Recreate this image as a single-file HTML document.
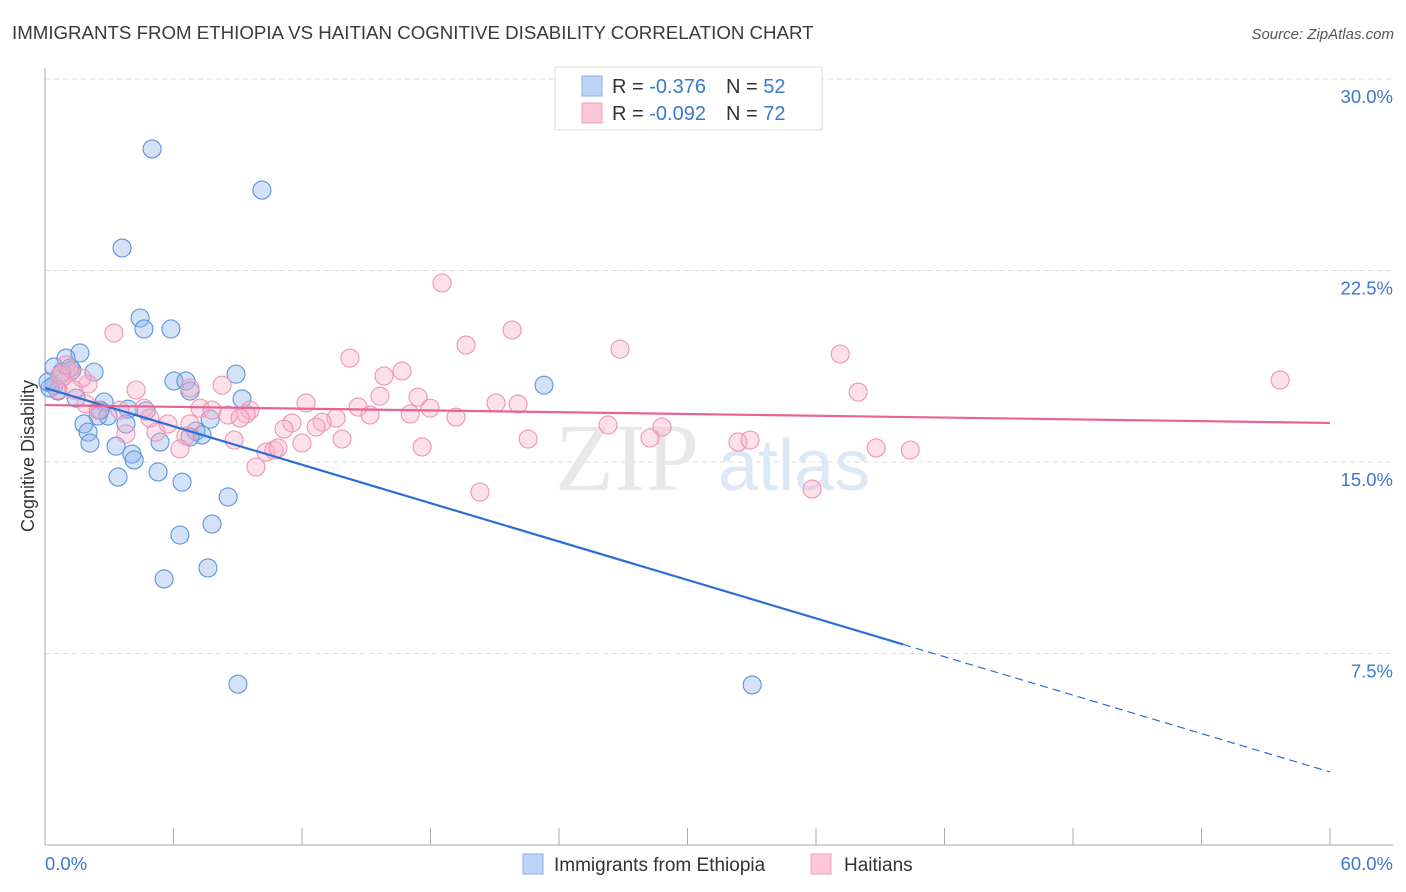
<!DOCTYPE html>
<html><head><meta charset="utf-8"><style>
body{margin:0;background:#fff;font-family:"Liberation Sans",sans-serif}
svg{display:block}
</style></head><body>
<svg id="chart" width="1406" height="892" xmlns="http://www.w3.org/2000/svg" font-family="Liberation Sans, sans-serif">
<text x="12" y="39" font-size="18.7" fill="#3a3a3a">IMMIGRANTS FROM ETHIOPIA VS HAITIAN COGNITIVE DISABILITY CORRELATION CHART</text>
<text x="1394" y="39" font-size="15" font-style="italic" fill="#555" text-anchor="end">Source: ZipAtlas.com</text>
<g id="grid"></g>
<text x="555" y="490" font-size="96" fill="#e8e8e8" font-family="Liberation Serif, serif">ZIP</text>
<text x="718" y="490" font-size="72" fill="#dde8f7">atlas</text>
<line x1="45" y1="68" x2="45" y2="845" stroke="#aaa"/>
<line x1="45" y1="845" x2="1393" y2="845" stroke="#aaa"/>
<text transform="translate(34,456) rotate(-90)" font-size="18" fill="#333" text-anchor="middle">Cognitive Disability</text>
<text x="45" y="870" font-size="18.5" fill="#3b78d0">0.0%</text>
<text x="1393" y="870" font-size="18.5" fill="#3b78d0" text-anchor="end">60.0%</text>
<g id="pts"></g>
<g id="lines"></g>
<g>
<rect x="555" y="67" width="267" height="63" fill="#fff" stroke="#ddd"/>
<rect x="582" y="76" width="20" height="20" fill="#bcd4f6" stroke="#8ab0e8"/>
<rect x="582" y="103" width="20" height="20" fill="#fac8d8" stroke="#f0a0bb"/>
<text x="612" y="93" font-size="20" fill="#333">R = <tspan fill="#3b78d0"> -0.376</tspan><tspan dx="20">N = </tspan><tspan fill="#3b78d0">52</tspan></text>
<text x="612" y="120" font-size="20" fill="#333">R = <tspan fill="#3b78d0">-0.092</tspan><tspan dx="20">N = </tspan><tspan fill="#3b78d0">72</tspan></text>
</g>
<g>
<rect x="523" y="854" width="20" height="20" fill="#bcd4f6" stroke="#8ab0e8"/>
<text x="554" y="871" font-size="19" fill="#333">Immigrants from Ethiopia</text>
</g>
<g>
<rect x="811" y="854" width="20" height="20" fill="#fac8d8" stroke="#f0a0bb"/>
<text x="844" y="871" font-size="19" fill="#333">Haitians</text>
</g>
</svg>
<script>
const yTicks=[7.5,15,22.5,30];
const yTickLabels=["7.5%","15.0%","22.5%","30.0%"];
const xTicks=[0,6,12,18,24,30,36,42,48,54,60];
const blueX=[5.0,10.13,3.6,4.44,4.62,5.88,1.63,0.98,0.42,1.26,2.29,8.92,23.3,6.02,6.58,6.77,9.2,0.42,0.61,1.45,2.76,3.88,4.72,2.48,2.94,7.71,1.82,3.78,2.01,7.05,7.33,5.37,3.32,2.1,4.06,4.16,5.28,3.41,6.4,8.55,7.8,6.3,5.56,7.61,9.01,33.02,0.23,0.79,2.57,0.14,1.17,6.77];
const blueY=[27.26,25.65,23.38,20.64,20.21,20.21,19.27,19.07,18.72,18.6,18.52,18.44,18.01,18.17,18.17,17.78,17.47,18.01,17.78,17.5,17.35,17.07,17.0,16.8,16.8,16.68,16.49,16.49,16.17,16.21,16.06,15.78,15.62,15.74,15.31,15.08,14.61,14.41,14.21,13.63,12.57,12.14,10.42,10.85,6.3,6.27,17.9,18.52,17.03,18.13,18.68,15.98];
const pinkX=[18.54,21.81,19.66,26.85,37.13,3.22,14.24,57.67,15.83,16.67,4.25,8.27,6.77,37.97,17.42,15.64,12.19,21.06,22.09,14.62,17.98,2.01,1.73,1.17,0.79,0.61,0.7,1.91,2.48,4.62,7.24,7.8,9.57,8.55,9.39,17.05,19.19,15.18,13.59,11.53,12.94,12.66,4.9,5.74,6.77,11.16,3.78,5.18,6.58,8.83,13.87,12.0,22.56,26.29,28.81,28.25,32.36,32.92,17.61,10.32,10.69,10.88,6.3,9.85,20.31,35.82,38.81,40.4,9.11,3.5,1.35,0.98];
const pinkY=[22.01,20.17,19.58,19.42,19.23,20.05,19.07,18.21,18.37,18.56,17.82,18.01,17.9,17.74,17.54,17.58,17.31,17.31,17.27,17.15,17.11,18.05,18.29,18.52,18.29,17.82,18.4,17.27,17.03,17.11,17.11,17.03,17.03,16.84,16.88,16.88,16.76,16.84,16.72,16.53,16.56,16.37,16.72,16.49,16.49,16.29,16.1,16.17,16.02,15.86,15.9,15.74,15.9,16.45,16.37,15.94,15.78,15.86,15.59,15.39,15.47,15.55,15.51,14.8,13.82,13.94,15.55,15.47,16.72,17.03,17.82,18.8];
const blueTrend=[17.9,2.86];
const blueSolidEnd=40.07;
const pinkTrend=[17.23,16.53];
const NS="http://www.w3.org/2000/svg";
const sx=v=>45+v/60*1285, sy=v=>845-v/30*766;
function mk(tag,attrs,parent){const e=document.createElementNS(NS,tag);for(const k in attrs)e.setAttribute(k,attrs[k]);parent.appendChild(e);return e;}
const grid=document.getElementById('grid');
yTicks.forEach((t,i)=>{
 const l=mk('line',{x1:45,x2:1393,y1:sy(t),y2:sy(t),stroke:'#ddd','stroke-dasharray':'5,4'},grid);
 
 
 const tx=mk('text',{x:1393,y:sy(t)+24,'font-size':18.5,fill:'#3b78d0','text-anchor':'end'},grid);
 tx.textContent=yTickLabels[i];
 
 
});
xTicks.forEach(t=>{
 const l=mk('line',{x1:sx(t),x2:sx(t),y1:828,y2:845,stroke:'#aaa'},grid);
 
 
});
const pts=document.getElementById('pts');
blueX.forEach((x,i)=>{
 const c=mk('circle',{cx:sx(x),cy:sy(blueY[i]),r:9,fill:'rgba(140,180,235,0.38)',stroke:'#5b93dd','stroke-width':1.1},pts);
 
 
});
pinkX.forEach((x,i)=>{
 const c=mk('circle',{cx:sx(x),cy:sy(pinkY[i]),r:9,fill:'rgba(248,175,200,0.38)',stroke:'#ee93b3','stroke-width':1.1},pts);
 
 
});
const lines=document.getElementById('lines');
const by=x=>blueTrend[0]+(blueTrend[1]-blueTrend[0])*x/60;
const b1=mk('line',{x1:sx(0),y1:sy(by(0)),x2:sx(blueSolidEnd),y2:sy(by(blueSolidEnd)),stroke:'#2a6fd6','stroke-width':2.2},lines);


const b2=mk('line',{x1:sx(blueSolidEnd),y1:sy(by(blueSolidEnd)),x2:sx(60),y2:sy(by(60)),stroke:'#2a6fd6','stroke-width':1.2,'stroke-dasharray':'8,5'},lines);


const p1=mk('line',{x1:sx(0),y1:sy(pinkTrend[0]),x2:sx(60),y2:sy(pinkTrend[1]),stroke:'#e8648f','stroke-width':2.2},lines);


</script>
</body></html>
